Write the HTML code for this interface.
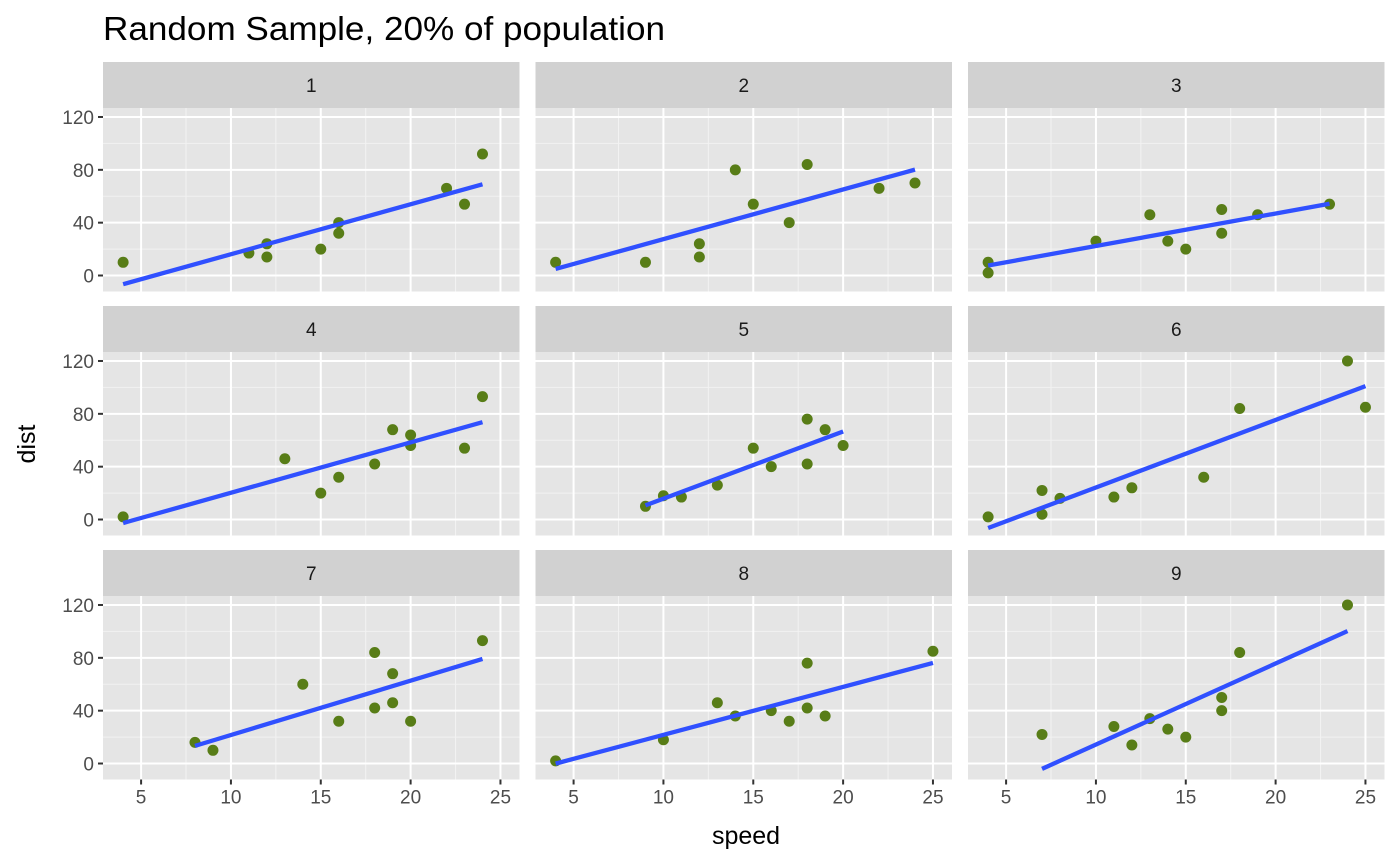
<!DOCTYPE html>
<html><head><meta charset="utf-8"><style>
html,body{margin:0;padding:0;background:#fff;}
svg{display:block;font-family:"Liberation Sans",Arial,sans-serif;}
</style></head><body>
<svg id="chart" width="1400" height="866" viewBox="0 0 1400 866" xmlns="http://www.w3.org/2000/svg">
<text x="103" y="40" font-size="33.5" textLength="562" lengthAdjust="spacingAndGlyphs" fill="#000">Random Sample, 20% of population</text>
<text x="746" y="844" font-size="25" text-anchor="middle" fill="#000">speed</text>
<text transform="translate(35,444) rotate(-90)" font-size="25" text-anchor="middle" fill="#000">dist</text>
</svg>
<script>
const panelLabels = ["1","2","3","4","5","6","7","8","9"];
const speeds = [
 [4,11,12,12,15,16,16,22,23,24],
 [4,9,12,12,14,15,17,18,22,24],
 [4,4,10,13,14,15,17,17,19,23],
 [4,13,15,16,18,19,20,20,23,24],
 [9,10,11,13,15,16,18,18,19,20],
 [4,7,7,8,11,12,16,18,24,25],
 [8,9,14,16,18,18,19,19,20,24],
 [4,10,13,14,16,17,18,18,19,25],
 [7,11,12,13,14,15,17,17,18,24]
];
const dists = [
 [10,17,24,14,20,40,32,66,54,92],
 [10,10,24,14,80,54,40,84,66,70],
 [10,2,26,46,26,20,50,32,46,54],
 [2,46,20,32,42,68,64,56,54,93],
 [10,18,17,26,54,40,76,42,68,56],
 [2,22,4,16,17,24,32,84,120,85],
 [16,10,60,32,84,42,68,46,32,93],
 [2,18,46,36,40,32,76,42,36,85],
 [22,28,14,34,26,20,50,40,84,120]
];
const xTicks = [5,10,15,20,25];
const xMinor = [7.5,12.5,17.5,22.5];
const yTicks = [0,40,80,120];
const yMinor = [20,60,100];

const NS="http://www.w3.org/2000/svg";
const svg=document.getElementById('chart');
function mk(tag,attrs,parent){const e=document.createElementNS(NS,tag);for(const k in attrs)e.setAttribute(k,attrs[k]);(parent||svg).appendChild(e);return e;}
const colL=[103,535.5,968], pw=416.5;
const rowT=[108,352,596], ph=183.5, sh=46;
const xMin=2.88,xMax=26.06,yMin=-12.1,yMax=126.8;
for(let p=0;p<9;p++){
  const c=p%3,r=Math.floor(p/3);
  const L=colL[c],T=rowT[r];
  const sx=v=>L+(v-xMin)/(xMax-xMin)*pw;
  const sy=v=>T+ph-(v-yMin)/(yMax-yMin)*ph;
  const g=mk('g',{});
  
  
  const strip=mk('rect',{x:L,y:T-sh,width:pw,height:sh,fill:'#d1d1d1'},g);
  
  
  const st=mk('text',{x:L+pw/2,y:T-sh/2+7,'font-size':19,'text-anchor':'middle',fill:'#1a1a1a'},g);
  st.textContent=panelLabels[p];
  
  
  const bg=mk('rect',{x:L,y:T,width:pw,height:ph,fill:'#e5e5e5'},g);
  
  
  xMinor.forEach(v=>mk('line',{x1:sx(v),x2:sx(v),y1:T,y2:T+ph,stroke:'#f2f2f2','stroke-width':1},g));
  yMinor.forEach(v=>mk('line',{x1:L,x2:L+pw,y1:sy(v),y2:sy(v),stroke:'#f2f2f2','stroke-width':1},g));
  xTicks.forEach(v=>mk('line',{x1:sx(v),x2:sx(v),y1:T,y2:T+ph,stroke:'#fff','stroke-width':2},g));
  yTicks.forEach(v=>mk('line',{x1:L,x2:L+pw,y1:sy(v),y2:sy(v),stroke:'#fff','stroke-width':2},g));
  if(c===0){
    yTicks.forEach(v=>{
      mk('line',{x1:L-5,x2:L,y1:sy(v),y2:sy(v),stroke:'#333','stroke-width':2},g);
      const t=mk('text',{x:L-9,y:sy(v)+7,'font-size':19,'text-anchor':'end',fill:'#4d4d4d'},g);
      t.textContent=v;
      
      
    });
  }
  if(r===2){
    xTicks.forEach(v=>{
      mk('line',{x1:sx(v),x2:sx(v),y1:T+ph,y2:T+ph+5,stroke:'#333','stroke-width':2},g);
      const t=mk('text',{x:sx(v),y:T+ph+24,'font-size':19,'text-anchor':'middle',fill:'#4d4d4d'},g);
      t.textContent=v;
      
      
    });
  }
  const xs=speeds[p],ys=dists[p];
  xs.forEach((x,i)=>{
    const pt=mk('circle',{cx:sx(x),cy:sy(ys[i]),r:5.5,fill:'#587d17'},g);
    
    
  });
  const n=xs.length,mx=xs.reduce((a,b)=>a+b)/n,my=ys.reduce((a,b)=>a+b)/n;
  let sxy=0,sxx=0;xs.forEach((x,i)=>{sxy+=(x-mx)*(ys[i]-my);sxx+=(x-mx)*(x-mx);});
  const b=sxy/sxx,a=my-b*mx;
  const x0=Math.min(...xs),x1=Math.max(...xs);
  const ln=mk('line',{x1:sx(x0),y1:sy(a+b*x0),x2:sx(x1),y2:sy(a+b*x1),stroke:'#3050ff','stroke-width':4.3},g);
  
  
}
</script>
</body></html>
